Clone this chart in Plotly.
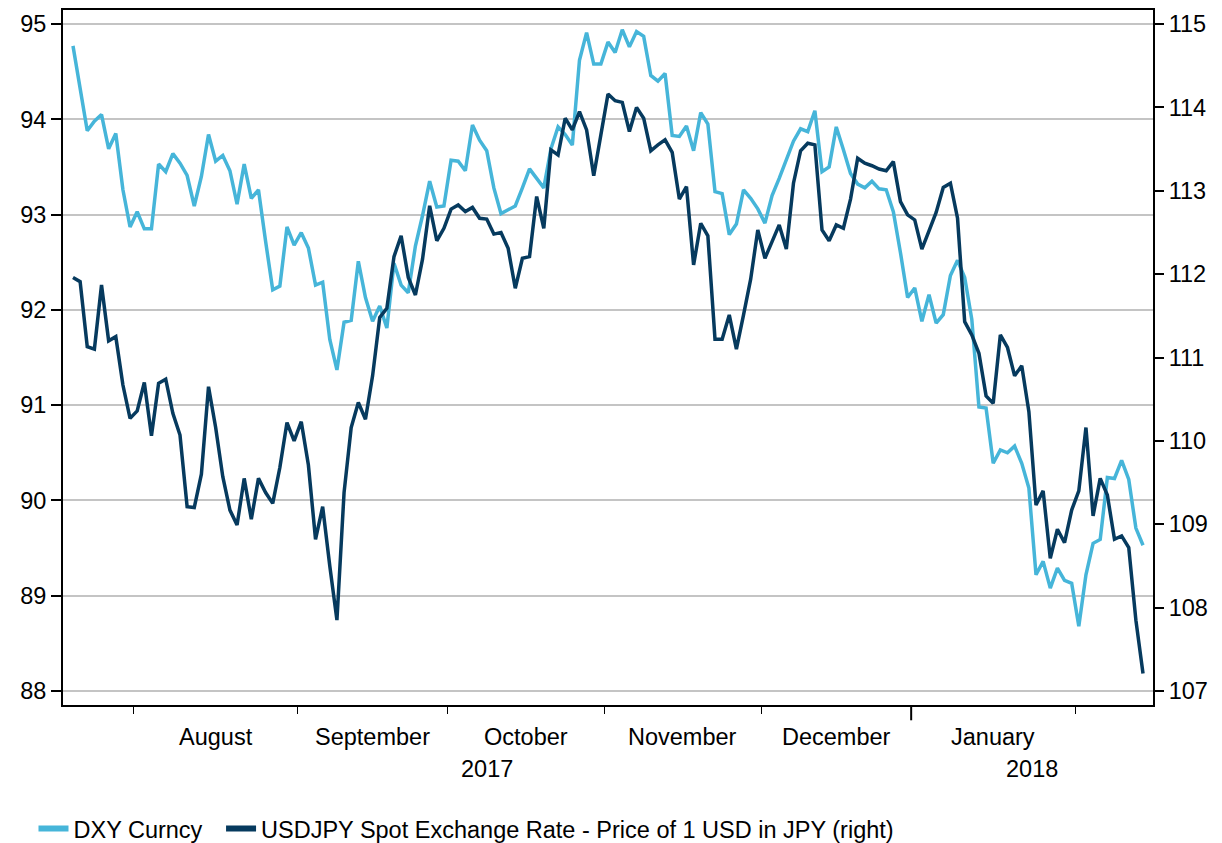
import pandas as pd
import plotly.graph_objects as go

# daily (business day) closes, 19 Jul 2017 - 14 Feb 2018
dxy = [
    94.77, 94.33, 93.88, 93.98, 94.05, 93.69, 93.85, 93.26, 92.87, 93.03,
    92.85, 92.85, 93.53, 93.45, 93.64, 93.54, 93.41, 93.09, 93.40, 93.84,
    93.56, 93.62, 93.46, 93.11, 93.53, 93.17, 93.26, 92.72, 92.21, 92.25,
    92.87, 92.68, 92.81, 92.65, 92.26, 92.29, 91.69, 91.37, 91.87, 91.89,
    92.51, 92.13, 91.88, 92.04, 91.81, 92.49, 92.26, 92.18, 92.67, 92.99,
    93.35, 93.08, 93.09, 93.57, 93.56, 93.46, 93.94, 93.78, 93.67, 93.28,
    93.01, 93.05, 93.09, 93.28, 93.48, 93.38, 93.28, 93.69, 93.92, 93.84,
    93.73, 94.62, 94.91, 94.58, 94.58, 94.81, 94.70, 94.94, 94.76, 94.92,
    94.87, 94.46, 94.40, 94.48, 93.83, 93.82, 93.93, 93.67, 94.07, 93.95,
    93.24, 93.22, 92.79, 92.90, 93.26, 93.17, 93.06, 92.91, 93.20, 93.38,
    93.58, 93.77, 93.90, 93.87, 94.09, 93.45, 93.50, 93.92, 93.68, 93.43,
    93.32, 93.28, 93.35, 93.27, 93.26, 93.03, 92.60, 92.13, 92.23, 91.88,
    92.16, 91.86, 91.95, 92.36, 92.52, 92.34, 91.90, 90.98, 90.97, 90.39,
    90.53, 90.50, 90.57, 90.39, 90.13, 89.22, 89.36, 89.08, 89.29, 89.16,
    89.13, 88.68, 89.22, 89.55, 89.59, 90.24, 90.23, 90.42, 90.22, 89.71,
    89.53,
]

usdjpy = [
    111.96, 111.91, 111.13, 111.10, 111.87, 111.20, 111.25, 110.67, 110.27, 110.36,
    110.70, 110.06, 110.69, 110.74, 110.33, 110.07, 109.21, 109.20, 109.60, 110.65,
    110.16, 109.57, 109.17, 108.99, 109.55, 109.06, 109.55, 109.38, 109.25, 109.68,
    110.22, 110.00, 110.23, 109.71, 108.82, 109.21, 108.50, 107.85, 109.38, 110.16,
    110.46, 110.26, 110.78, 111.48, 111.59, 112.21, 112.46, 111.96, 111.75, 112.18,
    112.82, 112.40, 112.55, 112.78, 112.83, 112.75, 112.80, 112.67, 112.66, 112.48,
    112.50, 112.31, 111.83, 112.19, 112.21, 112.93, 112.55, 113.49, 113.43, 113.87,
    113.73, 113.95, 113.73, 113.18, 113.67, 114.16, 114.08, 114.06, 113.71, 114.00,
    113.87, 113.48, 113.55, 113.61, 113.46, 112.90, 113.05, 112.11, 112.61, 112.46,
    111.22, 111.22, 111.51, 111.10, 111.51, 111.94, 112.53, 112.19, 112.39, 112.59,
    112.30, 113.09, 113.48, 113.57, 113.55, 112.53, 112.40, 112.59, 112.55, 112.90,
    113.39, 113.33, 113.30, 113.26, 113.24, 113.35, 112.87, 112.71, 112.65, 112.30,
    112.52, 112.74, 113.04, 113.09, 112.67, 111.43, 111.27, 111.05, 110.54, 110.45,
    111.27, 111.12, 110.78, 110.90, 110.35, 109.23, 109.40, 108.59, 108.94, 108.78,
    109.17, 109.40, 110.16, 109.10, 109.55, 109.35, 108.82, 108.86, 108.72, 107.85,
    107.21,
]

series_names = ["DXY Curncy", "USDJPY Spot Exchange Rate - Price of 1 USD in JPY (right)"]

dates = pd.bdate_range("2017-07-19", periods=len(dxy))
x = list(range(len(dates)))

LIGHT = "#46b5d9"
DARK = "#063a5e"
FONT = dict(family="Liberation Sans, Arial, sans-serif", size=23.5, color="#000000")

# month boundaries sit halfway between the last and first trading day
bounds = [i - 0.5 for i in range(1, len(dates)) if dates[i].month != dates[i - 1].month]
x_range = [-1.4, len(dates) - 1 + 1.4]

fig = go.Figure()
fig.add_trace(go.Scatter(x=x, y=dxy, name=series_names[0], mode="lines",
                         line=dict(color=LIGHT, width=3.5), showlegend=False))
fig.add_trace(go.Scatter(x=x, y=usdjpy, name=series_names[1], mode="lines",
                         line=dict(color=DARK, width=3.5), yaxis="y2", showlegend=False))
# legend keys are drawn thicker than the plotted lines; one legend per entry to set the spacing
for name, color, leg in zip(series_names, [LIGHT, DARK], ["legend", "legend2"]):
    fig.add_trace(go.Scatter(x=[None], y=[None], name=name, mode="lines",
                             line=dict(color=color, width=6), legend=leg))

annotations = []
for a, b in zip(bounds[:-1], bounds[1:]):
    month = dates[int(a + 0.5)].strftime("%B")
    annotations.append(dict(x=(a + b) / 2, y=0, xref="x", yref="paper", text=month,
                            showarrow=False, yanchor="middle", yshift=-32, font=FONT))

shapes = []
for a, b in zip(bounds[:-1], bounds[1:]):
    if dates[int(b + 0.5)].year != dates[int(a + 0.5)].year:
        year_b = b
        shapes.append(dict(type="line", xref="x", yref="paper", x0=b, x1=b, y0=0, y1=-0.022,
                           line=dict(color="#000000", width=2)))
annotations.append(dict(x=(x_range[0] + year_b) / 2, y=0, xref="x", yref="paper", text=str(dates[0].year),
                        showarrow=False, yanchor="middle", yshift=-64, font=FONT))
annotations.append(dict(x=(year_b + x_range[1]) / 2, y=0, xref="x", yref="paper", text=str(dates[-1].year),
                        showarrow=False, yanchor="middle", yshift=-64, font=FONT))

legend_style = dict(orientation="h", y=0.017, xref="container", yref="container",
                    xanchor="left", yanchor="middle", font=FONT, itemwidth=30,
                    bgcolor="rgba(0,0,0,0)")

# page body has an 8px margin, so the figure is 8px smaller than the window
fig.update_layout(
    width=1214, height=835,
    paper_bgcolor="white", plot_bgcolor="white",
    font=FONT,
    margin=dict(l=55, r=69, t=2, b=138, autoexpand=False),
    showlegend=True,
    legend=dict(x=0.021, **legend_style),
    legend2=dict(x=0.1755, **legend_style),
    annotations=annotations,
    shapes=shapes,
    xaxis=dict(range=x_range, tickvals=bounds, ticktext=[""] * len(bounds),
               ticks="outside", ticklen=7, tickwidth=1, tickcolor="#000000",
               showgrid=False, zeroline=False, showline=True, linecolor="#000000",
               linewidth=2, mirror=True, automargin=False),
    yaxis=dict(range=[88 - 14 / 95.3, 95 + 14 / 95.3], tickvals=list(range(88, 96)),
               ticks="outside", ticklen=10, tickwidth=2, tickcolor="#000000",
               showgrid=True, gridcolor="#c4c4c4", gridwidth=1.5, zeroline=False,
               showline=True, linecolor="#000000", linewidth=2, mirror=True,
               tickfont=FONT, automargin=False),
    yaxis2=dict(range=[107 - 14 / 83.4, 115 + 14 / 83.4], tickvals=list(range(107, 116)),
                overlaying="y", side="right", ticks="outside", ticklen=10, tickwidth=2,
                tickcolor="#000000", showgrid=False, zeroline=False, showline=False,
                tickfont=FONT, automargin=False),
)

fig.write_html("out.html")
